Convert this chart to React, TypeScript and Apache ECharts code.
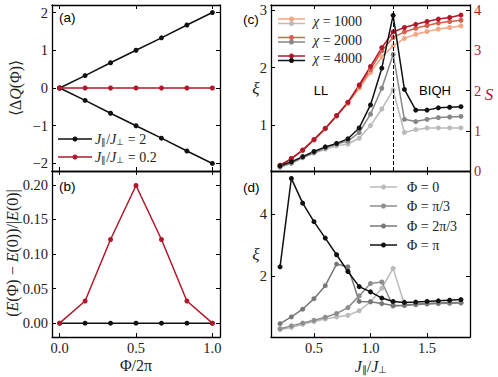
import React, { useEffect, useRef } from 'react';
import * as echarts from 'echarts';

// ---- Panel (a)/(b): flux Φ/2π ----
const phiX = [0, 0.1667, 0.3333, 0.5, 0.6667, 0.8333, 1.0];
const dQStrongUp = [0, 0.33, 0.67, 1.0, 1.33, 1.67, 2.0];
const dQStrongDown = [0, -0.33, -0.67, -1.0, -1.33, -1.67, -2.0];
const dQWeak = [0, 0, 0, 0, 0, 0, 0];
const dEStrong = [0, 0, 0, 0, 0, 0, 0];
const dEWeak = [0, 0.032, 0.121, 0.199, 0.121, 0.032, 0];

// ---- Panel (c)/(d): J_par / J_perp ----
const jRatio = [0.2, 0.3, 0.4, 0.5, 0.6, 0.7, 0.8, 0.9, 1.0, 1.1, 1.2, 1.3, 1.4, 1.5, 1.6, 1.7, 1.8];
const xi1000 = [0.27, 0.33, 0.43, 0.51, 0.58, 0.64, 0.67, 0.77, 0.99, 1.28, 1.61, 0.87, 0.92, 0.95, 0.95, 0.95, 0.95];
const xi2000 = [0.27, 0.34, 0.44, 0.52, 0.60, 0.67, 0.72, 0.87, 1.19, 1.64, 2.23, 1.10, 1.06, 1.10, 1.13, 1.14, 1.15];
const xi4000 = [0.29, 0.36, 0.45, 0.54, 0.62, 0.68, 0.76, 0.95, 1.35, 1.99, 2.91, 1.62, 1.26, 1.26, 1.30, 1.31, 1.32];
const s1000 = [0.14, 0.31, 0.51, 0.77, 1.05, 1.36, 1.68, 2.06, 2.45, 2.84, 3.11, 3.30, 3.40, 3.47, 3.53, 3.57, 3.61];
const s2000 = [0.14, 0.31, 0.52, 0.78, 1.06, 1.37, 1.70, 2.10, 2.52, 2.99, 3.32, 3.46, 3.55, 3.62, 3.68, 3.72, 3.75];
const s4000 = [0.14, 0.31, 0.52, 0.78, 1.06, 1.38, 1.71, 2.14, 2.60, 3.07, 3.46, 3.57, 3.65, 3.72, 3.78, 3.82, 3.88];
const xiPhi0 = [0.26, 0.33, 0.43, 0.52, 0.60, 0.67, 0.72, 0.87, 1.16, 1.60, 2.24, 1.08, 1.06, 1.09, 1.11, 1.12, 1.13];
const xiPhiPi3 = [0.29, 0.38, 0.47, 0.56, 0.66, 0.78, 0.97, 1.35, 1.75, 1.80, 1.02, 1.04, 1.07, 1.09, 1.10, 1.11, 1.12];
const xiPhi2Pi3 = [0.45, 0.67, 0.92, 1.26, 1.68, 2.38, 2.29, 1.17, 1.16, 1.10, 1.04, 1.05, 1.08, 1.10, 1.12, 1.13, 1.14];
const xiPhiPi = [2.29, 5.15, 4.35, 3.75, 3.22, 2.68, 2.14, 1.65, 1.48, 1.28, 1.17, 1.14, 1.15, 1.17, 1.19, 1.21, 1.23];

// tick values
const phiTicks = [0, 0.5, 1.0];
const dQTicks = [-2, -1, 0, 1, 2];
const dETicks = [0, 0.05, 0.1, 0.15, 0.2];
const jTicks = [0.5, 1.0, 1.5];
const xiCTicks = [1, 2, 3];
const sTicks = [0, 1, 2, 3, 4];
const xiDTicks = [2, 4];

const RED_DARK = '#b2182b';
const RED_MID = '#d6604d';
const RED_LIGHT = '#f4a582';
const GREY_LIGHT = '#bababa';
const GREY_MID = '#878787';
const BLACK = '#111111';

const SERIF = 'serif';
const SANS = 'sans-serif';
const LABEL_COLOR = '#222';

const zip = (xs: number[], ys: number[]) => xs.map((x, i) => [x, ys[i]]);

function axis(
  gridIndex: number,
  min: number,
  max: number,
  ticks: number[],
  position: string,
  showLabels: boolean,
  fmt: (v: number) => string,
  labelColor = LABEL_COLOR
) {
  return {
    type: 'value',
    gridIndex,
    min,
    max,
    position,
    splitLine: { show: false },
    axisLine: { show: true, onZero: false, lineStyle: { color: '#000', width: 1.3 } },
    axisTick: {
      show: true,
      inside: true,
      length: 4,
      customValues: ticks,
      lineStyle: { color: '#000', width: 1 },
    },
    axisLabel: {
      show: showLabels,
      customValues: ticks,
      formatter: fmt,
      fontFamily: SERIF,
      fontSize: 14.5,
      color: labelColor,
      margin: position === 'bottom' ? 3 : 4,
    },
  };
}

const fmtInt = (v: number) => (v < 0 ? '\u2212' + Math.abs(v) : String(v));
const fmt1 = (v: number) => v.toFixed(1);
const fmt2 = (v: number) => v.toFixed(2);

function lineSeries(
  name: string,
  xi: number,
  yi: number,
  data: number[][],
  color: string,
  extra: any = {}
) {
  return {
    name,
    type: 'line',
    xAxisIndex: xi,
    yAxisIndex: yi,
    data,
    symbol: 'circle',
    symbolSize: 5,
    showSymbol: true,
    lineStyle: { color, width: 1.5 },
    itemStyle: { color },
    ...extra,
  };
}

const subRich = {
  i: { fontStyle: 'italic', fontFamily: SERIF, fontSize: 14, fill: LABEL_COLOR },
  s: { fontFamily: SERIF, fontSize: 9, verticalAlign: 'bottom', fill: LABEL_COLOR },
};

function txt(x: number, y: number, text: string, o: any = {}, rotation = 0, rich: any = undefined) {
  const style: any = {
    text,
    fontFamily: SERIF,
    fontSize: 14,
    fill: LABEL_COLOR,
    align: 'center',
    verticalAlign: 'middle',
    textAlign: 'center',
    textVerticalAlign: 'middle',
    ...o,
  };
  if (rich) style.rich = rich;
  return { type: 'text', x, y, rotation, style, z: 100 };
}

function legendItem(x1: number, x2: number, y: number, color: string) {
  return [
    { type: 'line', shape: { x1, y1: y, x2, y2: y }, style: { stroke: color, lineWidth: 1.5 }, z: 100 },
    { type: 'circle', shape: { cx: (x1 + x2) / 2, cy: y, r: 2.5 }, style: { fill: color }, z: 101 },
  ];
}

export default function App() {
  const ref = useRef<HTMLDivElement>(null);
  useEffect(() => {
    if (!ref.current) return;
    const chart = echarts.init(ref.current, undefined, { renderer: 'svg' });

    const letter = { fontFamily: SANS, fontSize: 13.5, align: 'left', textAlign: 'left', fill: '#000' };
    const graphic: any[] = [
      // panel letters
      txt(59, 17, '(a)', letter),
      txt(59, 186, '(b)', letter),
      txt(243, 19, '(c)', letter),
      txt(243, 187, '(d)', letter),
      txt(321, 90, 'LL', { fontFamily: SANS, fontSize: 13, fill: '#000' }),
      txt(435, 90, 'BIQH', { fontFamily: SANS, fontSize: 13, fill: '#000' }),
      // axis labels
      txt(15, 88, '\u27E8\u0394{i|Q}(\u03A6)\u27E9', { fontSize: 16 }, Math.PI / 2, {
        i: { fontStyle: 'italic', fontFamily: SERIF, fontSize: 16, fill: LABEL_COLOR },
      }),
      txt(12, 253, '({i|E}(\u03A6) \u2212 {i|E}(0))/|{i|E}(0)|', { fontSize: 16 }, Math.PI / 2, {
        i: { fontStyle: 'italic', fontFamily: SERIF, fontSize: 16, fill: LABEL_COLOR },
      }),
      txt(136, 365, '\u03A6/2\u03C0', { fontSize: 16 }),
      txt(371, 366, '{i|J}{s|\u2225}/{i|J}{s|\u22A5}', { fontSize: 16 }, 0, {
        i: { fontStyle: 'italic', fontFamily: SERIF, fontSize: 16, fill: LABEL_COLOR },
        s: { fontFamily: SERIF, fontSize: 10, verticalAlign: 'bottom', fill: LABEL_COLOR },
      }),
      txt(256, 88, '\u03BE', { fontSize: 17, fontStyle: 'italic' }),
      txt(256, 254, '\u03BE', { fontSize: 17, fontStyle: 'italic' }),
      txt(489, 94, 'S', { fontSize: 17, fontStyle: 'italic', fill: RED_DARK }),
    ];

    // legend (a)
    graphic.push(...legendItem(58, 92, 139, BLACK));
    graphic.push(...legendItem(58, 92, 157, RED_DARK));
    graphic.push(
      txt(95, 139, '{i|J}{s|\u2225}/{i|J}{s|\u22A5} = 2', { align: 'left', textAlign: 'left' }, 0, subRich)
    );
    graphic.push(
      txt(95, 157, '{i|J}{s|\u2225}/{i|J}{s|\u22A5} = 0.2', { align: 'left', textAlign: 'left' }, 0, subRich)
    );

    // legend (c)
    const cLeg = [
      { y: 19, red: RED_LIGHT, grey: GREY_LIGHT, label: '1000' },
      { y: 37.5, red: RED_MID, grey: GREY_MID, label: '2000' },
      { y: 56, red: RED_DARK, grey: BLACK, label: '4000' },
    ];
    cLeg.forEach((e) => {
      graphic.push(...legendItem(278, 305, e.y, e.red));
      graphic.push(...legendItem(278, 305, e.y + 4.5, e.grey));
      graphic.push(
        txt(313, e.y + 2.5, '{i|\u03C7} = ' + e.label, { align: 'left', textAlign: 'left' }, 0, subRich)
      );
    });

    // legend (d)
    const dLeg = [
      { y: 187, c: GREY_LIGHT, label: '\u03A6 = 0' },
      { y: 206, c: '#8e8e8e', label: '\u03A6 = \u03C0/3' },
      { y: 226, c: '#787878', label: '\u03A6 = 2\u03C0/3' },
      { y: 245, c: BLACK, label: '\u03A6 = \u03C0' },
    ];
    dLeg.forEach((e) => {
      graphic.push(...legendItem(370, 397, e.y, e.c));
      graphic.push(txt(407, e.y, e.label, { align: 'left', textAlign: 'left' }));
    });

    const option: any = {
      animation: false,
      backgroundColor: '#fff',
      textStyle: { fontFamily: SERIF },
      grid: [
        { left: 52, top: 5, width: 168, height: 166 },
        { left: 52, top: 171, width: 168, height: 166 },
        { left: 271, top: 5, width: 199, height: 166 },
        { left: 271, top: 171, width: 199, height: 166 },
      ],
      xAxis: [
        axis(0, -0.05, 1.05, phiTicks, 'bottom', false, fmt1),
        axis(0, -0.05, 1.05, phiTicks, 'top', false, fmt1),
        axis(1, -0.05, 1.05, phiTicks, 'bottom', true, fmt1),
        axis(1, -0.05, 1.05, phiTicks, 'top', false, fmt1),
        axis(2, 0.12, 1.88, jTicks, 'bottom', false, fmt1),
        axis(2, 0.12, 1.88, jTicks, 'top', false, fmt1),
        axis(3, 0.12, 1.88, jTicks, 'bottom', true, fmt1),
        axis(3, 0.12, 1.88, jTicks, 'top', false, fmt1),
      ],
      yAxis: [
        axis(0, -2.2, 2.2, dQTicks, 'left', true, fmtInt),
        axis(0, -2.2, 2.2, dQTicks, 'right', false, fmtInt),
        axis(1, -0.02, 0.22, dETicks, 'left', true, fmt2),
        axis(1, -0.02, 0.22, dETicks, 'right', false, fmt2),
        axis(2, 0.2, 3.09, xiCTicks, 'left', true, fmtInt),
        axis(2, 0, 4.13, sTicks, 'right', true, fmtInt, RED_DARK),
        axis(3, 0.02, 5.39, xiDTicks, 'left', true, fmtInt),
        axis(3, 0.02, 5.39, xiDTicks, 'right', false, fmtInt),
      ],
      series: [
        // (a)
        lineSeries('J=2 up', 0, 0, zip(phiX, dQStrongUp), BLACK),
        lineSeries('J=2 down', 0, 0, zip(phiX, dQStrongDown), BLACK),
        lineSeries('J=0.2', 0, 0, zip(phiX, dQWeak), RED_DARK),
        // (b)
        lineSeries('J=2 E', 2, 2, zip(phiX, dEStrong), BLACK),
        lineSeries('J=0.2 E', 2, 2, zip(phiX, dEWeak), RED_DARK),
        // (c) entropy
        lineSeries('S1000', 4, 5, zip(jRatio, s1000), RED_LIGHT),
        lineSeries('S2000', 4, 5, zip(jRatio, s2000), RED_MID),
        lineSeries('S4000', 4, 5, zip(jRatio, s4000), RED_DARK),
        // (c) xi
        lineSeries('xi1000', 4, 4, zip(jRatio, xi1000), GREY_LIGHT),
        lineSeries('xi2000', 4, 4, zip(jRatio, xi2000), GREY_MID),
        lineSeries('xi4000', 4, 4, zip(jRatio, xi4000), BLACK, {
          markLine: {
            silent: true,
            symbol: 'none',
            label: { show: false },
            lineStyle: { type: 'dashed', color: '#000', width: 1 },
            data: [{ xAxis: 1.2 }],
          },
        }),
        // (d)
        lineSeries('phi0', 6, 6, zip(jRatio, xiPhi0), GREY_LIGHT),
        lineSeries('phiPi3', 6, 6, zip(jRatio, xiPhiPi3), '#8e8e8e'),
        lineSeries('phi2Pi3', 6, 6, zip(jRatio, xiPhi2Pi3), '#787878'),
        lineSeries('phiPi', 6, 6, zip(jRatio, xiPhiPi), BLACK),
      ],
      graphic,
    };
    chart.setOption(option);
    return () => chart.dispose();
  }, []);
  return (
    <div
      ref={ref}
      style={{ position: 'fixed', left: 0, top: 0, width: 498, height: 377, background: '#fff' }}
    />
  );
}
